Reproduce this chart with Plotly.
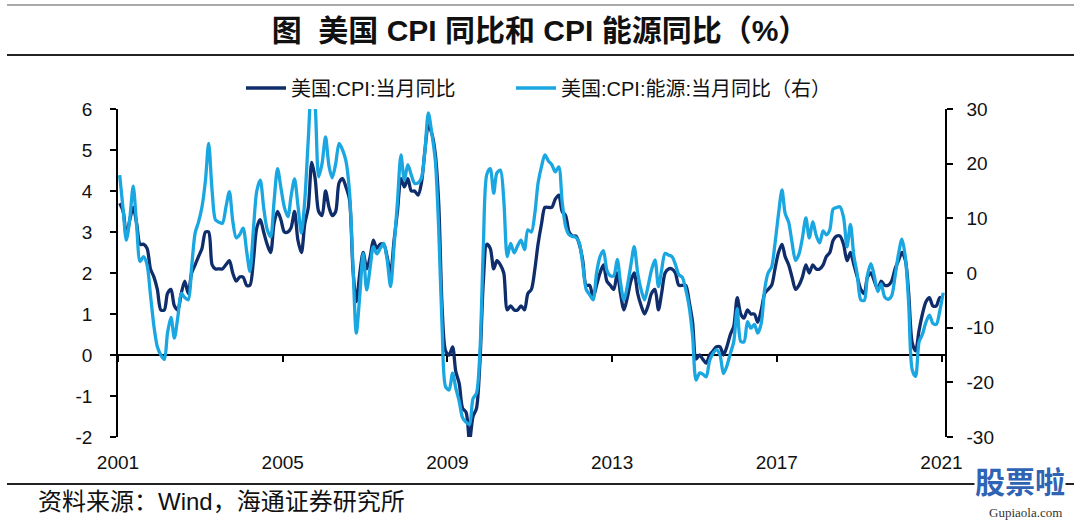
import plotly.graph_objects as go
import pandas as pd

# ---------------- data ----------------
months = pd.date_range("2001-01-01", "2021-01-01", freq="MS")
dates = [d + pd.Timedelta(days=15) for d in months]

cpi = [
    3.7, 3.5, 2.9, 3.3, 3.6, 3.2, 2.7, 2.7, 2.6, 2.1, 1.9, 1.6,      # 2001
    1.1, 1.1, 1.5, 1.6, 1.2, 1.1, 1.5, 1.8, 1.5, 2.0, 2.2, 2.4,      # 2002
    2.6, 3.0, 3.0, 2.2, 2.1, 2.1, 2.1, 2.2, 2.3, 2.0, 1.8, 1.9,      # 2003
    1.9, 1.7, 1.7, 2.3, 3.1, 3.3, 3.0, 2.7, 2.5, 3.2, 3.5, 3.3,      # 2004
    3.0, 3.0, 3.1, 3.5, 2.8, 2.5, 3.2, 3.6, 4.7, 4.3, 3.5, 3.4,      # 2005
    4.0, 3.6, 3.4, 3.5, 4.2, 4.3, 4.1, 3.8, 2.1, 1.3, 2.0, 2.5,      # 2006
    2.1, 2.4, 2.8, 2.6, 2.7, 2.7, 2.4, 2.0, 2.8, 3.5, 4.3, 4.1,      # 2007
    4.3, 4.0, 4.0, 3.9, 4.2, 5.0, 5.6, 5.4, 4.9, 3.7, 1.1, 0.1,      # 2008
    0.0, 0.2, -0.4, -0.7, -1.3, -1.4, -2.1, -1.5, -1.3, -0.2, 1.8, 2.7,  # 2009
    2.6, 2.1, 2.3, 2.2, 2.0, 1.1, 1.2, 1.1, 1.1, 1.2, 1.1, 1.5,      # 2010
    1.6, 2.1, 2.7, 3.2, 3.6, 3.6, 3.6, 3.8, 3.9, 3.5, 3.4, 3.0,      # 2011
    2.9, 2.9, 2.7, 2.3, 1.7, 1.7, 1.4, 1.7, 2.0, 2.2, 1.8, 1.7,      # 2012
    1.6, 2.0, 1.5, 1.1, 1.4, 1.8, 2.0, 1.5, 1.2, 1.0, 1.2, 1.5,      # 2013
    1.6, 1.1, 1.5, 2.0, 2.1, 2.1, 2.0, 1.7, 1.7, 1.7, 1.3, 0.8,      # 2014
    -0.1, 0.0, -0.1, -0.2, 0.0, 0.1, 0.2, 0.2, 0.0, 0.2, 0.5, 0.7,   # 2015
    1.4, 1.0, 0.9, 1.1, 1.0, 1.0, 0.8, 1.1, 1.5, 1.6, 1.7, 2.1,      # 2016
    2.5, 2.7, 2.4, 2.2, 1.9, 1.6, 1.7, 1.9, 2.2, 2.0, 2.2, 2.1,      # 2017
    2.1, 2.2, 2.4, 2.5, 2.8, 2.9, 2.9, 2.7, 2.3, 2.5, 2.2, 1.9,      # 2018
    1.6, 1.5, 1.9, 2.0, 1.8, 1.6, 1.8, 1.7, 1.7, 1.8, 2.1, 2.3,      # 2019
    2.5, 2.3, 1.5, 0.3, 0.1, 0.6, 1.0, 1.3, 1.4, 1.2, 1.2, 1.4,      # 2020
    1.4,                                                             # 2021
]

energy = [
    17.9, 11.5, 6.0, 10.0, 15.9, 8.5, 2.1, 3.0, 1.5, -4.0, -9.8, -13.5,      # 2001
    -15.0, -15.8, -11.0, -8.1, -11.9, -8.0, -3.7, -4.5, -4.9, 1.0, 7.3, 9.3,  # 2002
    12.1, 17.0, 23.7, 15.0, 9.7, 9.3, 9.1, 12.0, 14.9, 9.5, 6.4, 7.0,        # 2003
    8.2, 4.0, 0.3, 7.9, 15.0, 17.0, 12.0, 8.0, 6.6, 13.0, 19.1, 15.6,        # 2004
    12.0, 10.3, 14.0, 17.2, 12.4, 7.3, 13.4, 24.5, 34.8, 30.5, 17.6, 20.0,   # 2005
    24.9, 19.5, 17.4, 20.0, 23.7, 22.5, 20.5, 15.0, 1.5, -11.0, -4.0, 3.6,   # 2006
    -3.1, 1.0, 4.8, 3.5, 4.5, 5.4, 2.5, -2.5, 5.0, 13.0, 21.6, 17.0,         # 2007
    19.8, 17.9, 16.4, 16.5, 17.4, 22.5, 29.3, 25.5, 20.5, 8.0, -10.5, -20.8, # 2008
    -21.4, -18.3, -21.0, -23.5, -26.5, -27.3, -27.7, -23.0, -22.0, -14.6, 5.0, 18.0,  # 2009
    19.1, 14.6, 18.3, 18.8, 13.4, 3.0, 5.4, 3.7, 5.0, 6.0, 4.3, 7.9,         # 2010
    7.5, 11.0, 16.4, 19.5, 21.6, 20.5, 19.8, 18.5, 19.4, 13.0, 8.5, 7.0,     # 2011
    6.7, 6.5, 5.5, 1.5, -3.0, -4.0, -4.9, 0.0, 3.0, 4.1, 0.5, -0.5,          # 2012
    -0.5, 2.5, -1.7, -5.0, -2.4, 1.4, 4.8, 0.0, -3.1, -4.9, -2.4, 0.5,       # 2013
    2.4, -2.5, 0.5, 3.6, 3.3, 3.0, 1.6, -0.3, -0.8, -3.0, -6.2, -11.5,       # 2014
    -19.6, -18.3, -18.5, -19.0, -16.0, -14.7, -14.0, -15.0, -18.4, -17.0, -14.7, -12.6,  # 2015
    -6.5, -12.5, -12.6, -8.9, -10.1, -9.4, -11.0, -9.2, -2.9, 0.0, 1.1, 5.4,  # 2016
    10.8, 15.2, 10.9, 9.3, 5.6, 2.3, 3.4, 6.4, 10.1, 6.4, 9.4, 6.9,          # 2017
    5.5, 7.7, 7.0, 7.9, 11.7, 12.0, 12.1, 10.2, 4.8, 8.9, 3.1, -0.3,         # 2018
    -4.9, -5.0, -0.4, 1.7, -0.6, -3.4, -2.0, -4.4, -4.8, -4.2, -0.6, 3.4,    # 2019
    6.2, 2.8, -5.7, -17.7, -18.9, -12.6, -11.2, -9.0, -7.7, -9.2, -9.4, -7.0,  # 2020
    -3.6,                                                                    # 2021
]

tick_years = ["2001", "2005", "2009", "2013", "2017", "2021"]
tick_dates = [f"{y}-01-01" for y in tick_years]
left_ticks = [-2, -1, 0, 1, 2, 3, 4, 5, 6]
right_ticks = [-30, -20, -10, 0, 10, 20, 30]

name_cpi = "美国:CPI:当月同比"
name_energy = "美国:CPI:能源:当月同比（右）"
title_text = "图  美国 CPI 同比和 CPI 能源同比（%）"
source_text = "资料来源：Wind，海通证券研究所"

# ---------------- style ----------------
DARK = "#0F2C6B"
LIGHT = "#1AA7E1"
FONT = "Liberation Sans, Arial, Noto Sans CJK SC, sans-serif"

L, R, T, B = 118, 135, 109, 84
W, H = 1080, 521
pw, ph = W - L - R, H - T - B


def px_x(x):
    return (x - L) / pw


def px_y(y):
    return (H - B - y) / ph


fig = go.Figure()
fig.add_trace(go.Scatter(
    x=dates, y=cpi, name=name_cpi, mode="lines",
    line=dict(color=DARK, width=3.3, shape="spline", smoothing=0.8),
    yaxis="y", hoverinfo="skip", legend="legend",
))
fig.add_trace(go.Scatter(
    x=dates, y=energy, name=name_energy, mode="lines",
    line=dict(color=LIGHT, width=3.3, shape="spline", smoothing=0.8),
    yaxis="y2", hoverinfo="skip", legend="legend2",
))
# helper trace so that the tick axis at y=0 is drawn
fig.add_trace(go.Scatter(
    x=dates[:1], y=cpi[:1], xaxis="x2", yaxis="y", mode="markers",
    marker=dict(opacity=0), showlegend=False, hoverinfo="skip",
))

x_range = ["2001-01-01", "2021-02-01"]
legend_common = dict(
    orientation="h", xanchor="left", y=px_y(88), yanchor="middle",
    font=dict(family=FONT, size=20, color="#111111"),
    bgcolor="rgba(0,0,0,0)", itemwidth=40,
)

fig.update_layout(
    width=W, height=H,
    margin=dict(l=L, r=R, t=T, b=B),
    paper_bgcolor="white", plot_bgcolor="white",
    font=dict(family=FONT, color="#111111", size=19),
    showlegend=True,
    legend=dict(x=px_x(241), **legend_common),
    legend2=dict(x=px_x(511), **legend_common),
    title=dict(
        text=title_text, x=0.5, xanchor="center", xref="container",
        y=1 - 30 / H, yanchor="middle", yref="container",
        font=dict(family=FONT, size=30, color="#111111", weight="bold"),
    ),
    xaxis=dict(
        type="date", range=x_range,
        tickvals=tick_dates, ticktext=tick_years,
        showgrid=False, zeroline=False, showline=False, ticks="",
        tickfont=dict(size=19), ticklabelstandoff=12,
    ),
    xaxis2=dict(
        type="date", range=x_range, overlaying="x", anchor="free",
        position=(0 - (-2)) / 8, side="bottom",
        tickvals=tick_dates, showticklabels=False,
        showgrid=False, zeroline=False, showline=False,
        ticks="outside", ticklen=6, tickwidth=1.5, tickcolor="black",
    ),
    yaxis=dict(
        range=[-2, 6], tickvals=left_ticks,
        ticktext=[str(v) for v in left_ticks], showgrid=False,
        zeroline=True, zerolinecolor="black", zerolinewidth=1.6,
        showline=True, linecolor="black", linewidth=1.5,
        ticks="outside", ticklen=6, tickwidth=1.5, tickcolor="black",
        tickfont=dict(size=19), ticklabelstandoff=14,
    ),
    yaxis2=dict(
        range=[-30, 30], tickvals=right_ticks,
        ticktext=[str(v) for v in right_ticks],
        overlaying="y", side="right", anchor="x",
        showgrid=False, zeroline=False,
        showline=True, linecolor="black", linewidth=1.5,
        ticks="outside", ticklen=6, tickwidth=1.5, tickcolor="black",
        tickfont=dict(size=19), ticklabelstandoff=10,
    ),
    shapes=[
        dict(type="line", xref="paper", yref="paper",
             x0=px_x(7), x1=px_x(1074), y0=px_y(5), y1=px_y(5),
             line=dict(color="#555555", width=1.2)),
        dict(type="line", xref="paper", yref="paper",
             x0=px_x(7), x1=px_x(1074), y0=px_y(55), y1=px_y(55),
             line=dict(color="#222222", width=2.2)),
        dict(type="line", xref="paper", yref="paper",
             x0=px_x(7), x1=px_x(1074), y0=px_y(484), y1=px_y(484),
             line=dict(color="#222222", width=2.2)),
    ],
    annotations=[
        dict(text=source_text, xref="paper", yref="paper",
             x=px_x(36), y=px_y(501), xanchor="left", yanchor="middle",
             showarrow=False, font=dict(family=FONT, size=24, color="#111111")),
        dict(text="股票啦", xref="paper", yref="paper",
             x=px_x(1020), y=px_y(480), xanchor="center", yanchor="middle",
             showarrow=False, bgcolor="white", borderpad=0,
             font=dict(family="Noto Sans CJK SC", size=30, color="#2F63B4", weight="bold")),
        dict(text="Gupiaola.com", xref="paper", yref="paper",
             x=px_x(1025), y=px_y(512), xanchor="center", yanchor="middle",
             showarrow=False,
             font=dict(family="Liberation Serif, serif", size=13, color="#333333")),
    ],
)

fig.write_html(
    "out.html",
    config={"displayModeBar": False},
    post_script="document.body.style.margin='0px';document.body.style.overflow='hidden';",
)
